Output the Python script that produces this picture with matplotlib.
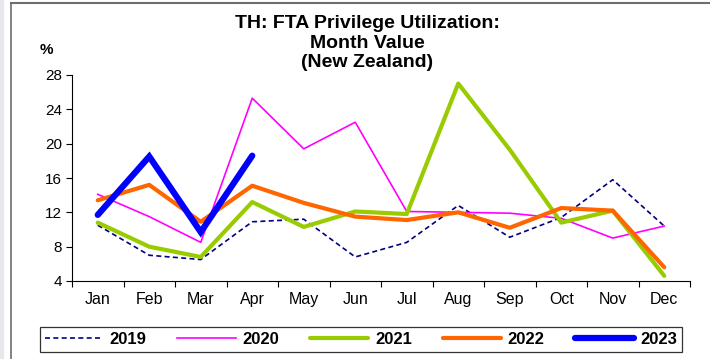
import numpy as np
import matplotlib.pyplot as plt
from matplotlib.lines import Line2D
from matplotlib.patches import Rectangle

plt.rcParams['font.family'] = ['Liberation Sans', 'DejaVu Sans']

months = ['Jan', 'Feb', 'Mar', 'Apr', 'May', 'Jun',
          'Jul', 'Aug', 'Sep', 'Oct', 'Nov', 'Dec']
v2019 = [10.5, 7.0, 6.5, 10.9, 11.2, 6.8, 8.5, 12.8, 9.1, 11.4, 15.8, 10.4]
v2020 = [14.1, 11.5, 8.5, 25.3, 19.4, 22.5, 12.1, 12.0, 11.9, 11.3, 9.0, 10.4]
v2021 = [10.8, 8.0, 6.8, 13.2, 10.3, 12.1, 11.8, 27.0, 19.3, 10.8, 12.2, 4.6]
v2022 = [13.4, 15.2, 10.9, 15.1, 13.1, 11.5, 11.1, 12.0, 10.2, 12.5, 12.2, 5.6]
v2023 = [11.7, 18.5, 9.7, 18.6]
yticks = [4, 8, 12, 16, 20, 24, 28]

fig = plt.figure(figsize=(7.1, 3.59), dpi=100)
W, H = 710, 359

# outer frame of the chart object
fig.patches.append(Rectangle((0, 0), 3 / W, 1, transform=fig.transFigure,
                             color='#e6e8ee', zorder=0))
fig.lines.append(Line2D([11 / W, 11 / W], [0, 1 - 3 / H], transform=fig.transFigure,
                        color='#6e6e6e', lw=1.2))
fig.lines.append(Line2D([11 / W, 1], [1 - 3 / H, 1 - 3 / H], transform=fig.transFigure,
                        color='#6e6e6e', lw=1.5))

ax = fig.add_axes([72 / W, (H - 281) / H, (690 - 72) / W, (281 - 75) / H])
x = np.arange(len(months))

ax.plot(x, v2019, color='#000080', lw=1.2, dashes=(3, 2), label='2019')
ax.plot(x, v2020, color='#ff00ff', lw=1.2, label='2020')
ax.plot(x, v2021, color='#99cc00', lw=3.0, label='2021', solid_capstyle='round')
ax.plot(x, v2022, color='#ff6600', lw=3.0, label='2022', solid_capstyle='round')
ax.plot(x[:len(v2023)], v2023, color='#0000ff', lw=4.5, label='2023',
        solid_capstyle='round', solid_joinstyle='miter')

ax.set_xlim(-0.5, 11.5)
ax.set_ylim(4, 28)
ax.set_yticks(yticks)
ax.tick_params(axis='y', direction='out', length=4, width=0.8, labelsize=11, pad=3)

# category labels centred, tick marks between categories
ax.set_xticks(np.arange(-0.5, 12, 1))
ax.set_xticklabels([])
ax.set_xticks(x, minor=True)
ax.set_xticklabels(months, minor=True)
ax.tick_params(axis='x', which='major', direction='out', length=4, width=0.8)
ax.tick_params(axis='x', which='minor', length=0, labelsize=11.5, pad=8)

for s in ['top', 'right']:
    ax.spines[s].set_visible(False)
for s in ['left', 'bottom']:
    ax.spines[s].set_linewidth(0.8)

fig.text(367 / W, 1 - 15 / H,
         'TH: FTA Privilege Utilization:\nMonth Value\n(New Zealand)',
         ha='center', va='top', fontsize=14, fontweight='bold', linespacing=1.2)
fig.text(46 / W, 1 - 50 / H, '%', ha='center', va='center',
         fontsize=11, fontweight='bold')

leg = fig.legend(loc='center', bbox_to_anchor=(361 / W, 1 - 339 / H), ncol=5,
                 frameon=True, fancybox=False, edgecolor='black',
                 prop={'weight': 'bold', 'size': 12},
                 handlelength=3.5, handletextpad=0.4, columnspacing=1.85,
                 borderpad=0.3)
leg.get_frame().set_linewidth(0.9)

fig.savefig('out.png', dpi=100)
